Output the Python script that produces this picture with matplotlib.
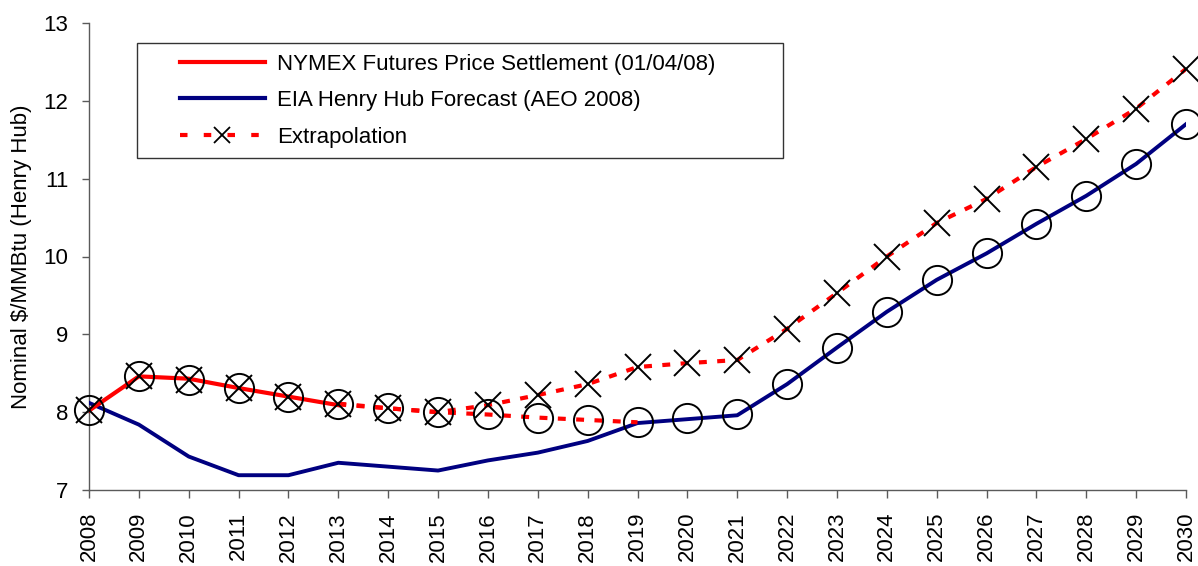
import matplotlib
matplotlib.use("Agg")
import matplotlib.pyplot as plt
from matplotlib.lines import Line2D
from matplotlib.legend_handler import HandlerLine2D

plt.rcParams['font.family'] = ['Liberation Sans', 'DejaVu Sans']

years = list(range(2008, 2031))

nymex_years = list(range(2008, 2014))
nymex = [8.02, 8.46, 8.43, 8.31, 8.20, 8.09]

eia = [8.12, 7.84, 7.43, 7.19, 7.19, 7.35, 7.30, 7.25, 7.38, 7.48, 7.63, 7.86,
       7.91, 7.96, 8.36, 8.83, 9.29, 9.70, 10.04, 10.42, 10.78, 11.19, 11.70]

# extension of the futures curve that joins the EIA forecast (circles)
circles = [8.03, 8.47, 8.41, 8.31, 8.20, 8.11, 8.05, 8.00, 7.98, 7.93, 7.90, 7.88,
           7.93, 7.98, 8.36, 8.83, 9.29, 9.70, 10.04, 10.42, 10.78, 11.19, 11.70]
bridge_years = list(range(2013, 2020))
bridge = [8.10, 8.05, 8.00, 7.97, 7.93, 7.90, 7.87]

extrap = [8.03, 8.47, 8.41, 8.31, 8.20, 8.11, 8.05, 8.00, 8.09, 8.22, 8.36, 8.58,
          8.63, 8.67, 9.07, 9.53, 10.00, 10.43, 10.74, 11.15, 11.51, 11.90, 12.41]
extrap_years = years

labels = ["NYMEX Futures Price Settlement (01/04/08)",
          "EIA Henry Hub Forecast (AEO 2008)",
          "Extrapolation"]

fig = plt.figure(figsize=(11.98, 5.66), dpi=100)
ax = fig.add_axes([89/1198, 76/566, (1186-89)/1198, (490-23)/566])

red = '#FF0000'
navy = '#000080'
grey = '#5a5a5a'

ax.plot(years, eia, color=navy, lw=2.8, zorder=3)
ax.plot(bridge_years, bridge, color=red, lw=3, ls=(0, (1.9, 2.5)), zorder=3)
ax.plot(extrap_years[5:], extrap[5:], color=red, lw=3, ls=(0, (1.9, 2.5)), zorder=3)
ax.plot(nymex_years, nymex, color=red, lw=3, zorder=4)
ax.plot(years, circles, ls='none', marker='o', ms=21, mfc='none', mec='black',
        mew=1.4, zorder=5, clip_on=False)
ax.plot(extrap_years, extrap, ls='none', marker='x', ms=19, mec='black',
        mew=1.4, zorder=5, clip_on=False)

ax.set_xlim(2008, 2030)
ax.set_ylim(7, 13)
ax.set_xticks(years)
ax.set_xticklabels([str(y) for y in years], rotation=90, fontsize=16)
ax.set_yticks(range(7, 14))
ax.tick_params(axis='y', labelsize=16, direction='out', length=5, width=1,
               color=grey, pad=10)
ax.tick_params(axis='x', direction='out', length=5.8, width=1, color=grey, pad=10)
for s in ['top', 'right']:
    ax.spines[s].set_visible(False)
for s in ['left', 'bottom']:
    ax.spines[s].set_color(grey)
    ax.spines[s].set_linewidth(1)
ax.set_ylabel("Nominal \\$/MMBtu (Henry Hub)", fontsize=16, labelpad=8)

h1 = Line2D([], [], color=red, lw=3)
h2 = Line2D([], [], color=navy, lw=3)
h3 = Line2D([], [], color=red, lw=3, ls=(0, (1.8, 3.9)), marker='x', ms=12,
            mec='black', mew=1.3)
hm = {h: HandlerLine2D(numpoints=1, xpad=1.44) for h in (h1, h2, h3)}
x0, x1 = 137/1198, 783/1198
y1 = 1 - 43/566
leg = fig.legend([h1, h2, h3], labels, loc='upper left', mode='expand',
                 bbox_to_anchor=(x0, y1 - 0.3, x1 - x0, 0.3),
                 bbox_transform=fig.transFigure,
                 borderaxespad=0, fontsize=16, handlelength=5.27, handletextpad=0.54,
                 labelspacing=0.70, borderpad=0.48, fancybox=False, frameon=True,
                 handler_map=hm)
leg.get_frame().set_edgecolor('black')
leg.get_frame().set_linewidth(1)

fig.savefig("out.png", dpi=100)
